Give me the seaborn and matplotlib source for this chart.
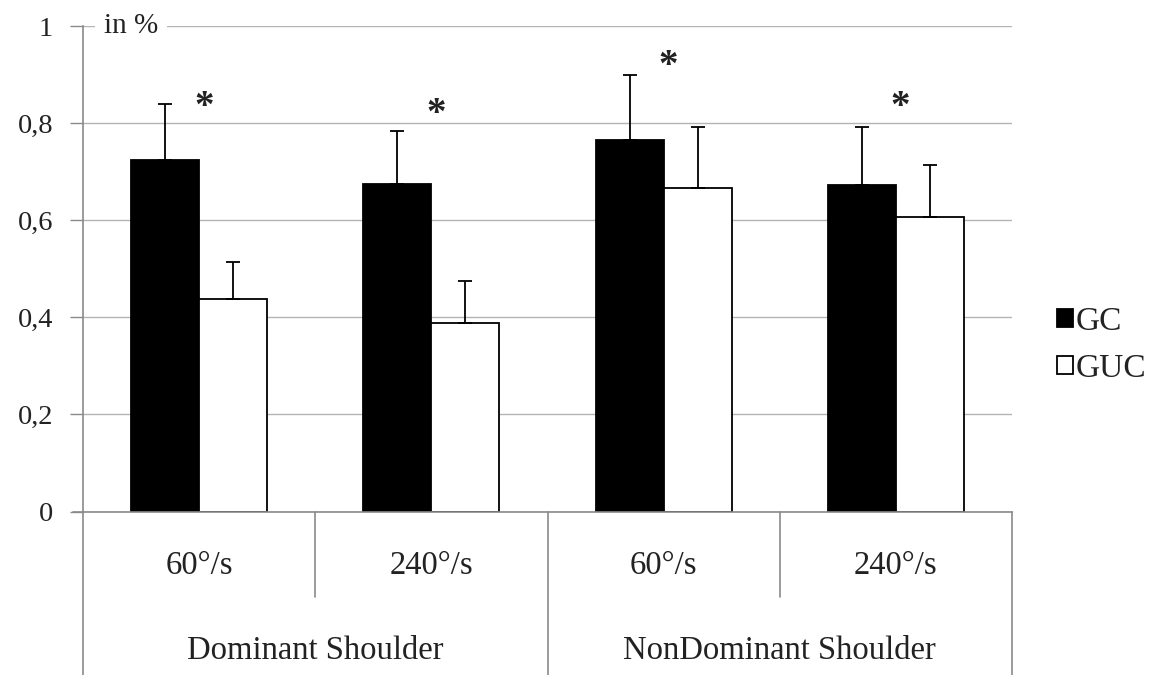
import matplotlib
matplotlib.use("Agg")
import matplotlib.pyplot as plt
import matplotlib.transforms as mtransforms
from matplotlib.ticker import FuncFormatter
import pandas as pd
import seaborn as sns

# data
shoulders = ["Dominant Shoulder", "NonDominant Shoulder"]
speeds = ["60°/s", "240°/s", "60°/s", "240°/s"]
conditions = ["D60", "D240", "N60", "N240"]
groups = ["GC", "GUC"]
gc_mean = [0.725, 0.675, 0.766, 0.672]
gc_sd = [0.115, 0.109, 0.134, 0.119]
guc_mean = [0.437, 0.389, 0.667, 0.607]
guc_sd = [0.076, 0.085, 0.124, 0.107]
star_y = [0.832, 0.817, 0.917, 0.832]

df = pd.DataFrame({
    "condition": conditions * 2,
    "group": ["GC"] * 4 + ["GUC"] * 4,
    "value": gc_mean + guc_mean,
    "sd": gc_sd + guc_sd,
})

sns.set_theme(style="white")
plt.rcParams["font.family"] = ["Liberation Serif", "DejaVu Serif"]
text_color = "#222222"
line_color = "#8a8a8a"

fig = plt.figure(figsize=(11.64, 6.75), dpi=100)
ax = fig.add_axes([83 / 1164, (675 - 511.5) / 675, (1012 - 83) / 1164, 485.5 / 675])

sns.barplot(data=df, x="condition", y="value", hue="group", order=conditions,
            hue_order=groups, palette=["black", "white"], edgecolor="black",
            linewidth=1.3, width=0.586, errorbar=None, ax=ax)

# one-sided error bars on top of every bar
for container, grp in zip(ax.containers, groups):
    sds = df[df.group == grp]["sd"].tolist()
    for bar, sd in zip(container, sds):
        xc = bar.get_x() + bar.get_width() / 2
        top = bar.get_height()
        ax.errorbar(xc, top, yerr=[[0], [sd]], fmt="none", ecolor="black",
                    elinewidth=1.3, capsize=5, capthick=1.3, zorder=3)

# significance stars
for i, y in enumerate(star_y):
    ax.text(i + 0.02, y, "*", ha="center", va="center", fontsize=28,
            fontweight="bold", color=text_color)

ax.set_xlim(-0.5, 3.5)
ax.set_ylim(0, 1)
ax.set_yticks([0, 0.2, 0.4, 0.6, 0.8, 1.0])
ax.yaxis.set_major_formatter(FuncFormatter(lambda v, p: "0" if v == 0 else ("1" if v == 1 else f"{v:.1f}".replace(".", ","))))
ax.tick_params(axis="y", which="both", left=True, length=9.5, width=1,
               color=line_color, labelsize=20.5, labelcolor=text_color, pad=12)
ax.yaxis.grid(True, color="#b4b4b4", linewidth=1)
ax.set_axisbelow(True)

for s in ["top", "right"]:
    ax.spines[s].set_visible(False)
for s in ["left", "bottom"]:
    ax.spines[s].set_color(line_color)
    ax.spines[s].set_linewidth(1.2)

ax.set_xticks(range(4))
ax.set_xticklabels(speeds)
ax.tick_params(axis="x", bottom=False, labelsize=23.5, labelcolor=text_color, pad=22)
ax.set_xlabel("")
ax.set_ylabel("")

# hierarchical axis: separators and group labels
trans = mtransforms.blended_transform_factory(ax.transData, ax.transAxes)
short = -(597 - 511.5) / 485.5
long_ = -(675 - 511.5) / 485.5
for x in [0.5, 2.5]:
    ax.plot([x, x], [0, short], transform=trans, color=line_color, lw=1.2, clip_on=False)
for x in [-0.5, 1.5, 3.5]:
    ax.plot([x, x], [0, long_], transform=trans, color=line_color, lw=1.2, clip_on=False)
ax.plot([-0.545, -0.5], [0, 0], transform=trans, color=line_color, lw=1.2, clip_on=False)
for i, name in enumerate(shoulders):
    ax.text(0.5 + 2 * i, -(651 - 511.5) / 485.5, name, transform=trans,
            ha="center", va="center", fontsize=23.5, color=text_color)

# unit label over the top gridline
ax.text(-0.41, 1.0, "in %", transform=trans, ha="left", va="center",
        fontsize=21, color=text_color,
        bbox=dict(facecolor="white", edgecolor="none", pad=6))

ax.legend(loc="center left", bbox_to_anchor=(1.048, 0.343), frameon=False,
          fontsize=24, handlelength=0.48, handleheight=0.48, handletextpad=0.08,
          labelspacing=0.5, borderpad=0, borderaxespad=0, labelcolor=text_color)

fig.savefig("out.png", dpi=100)
